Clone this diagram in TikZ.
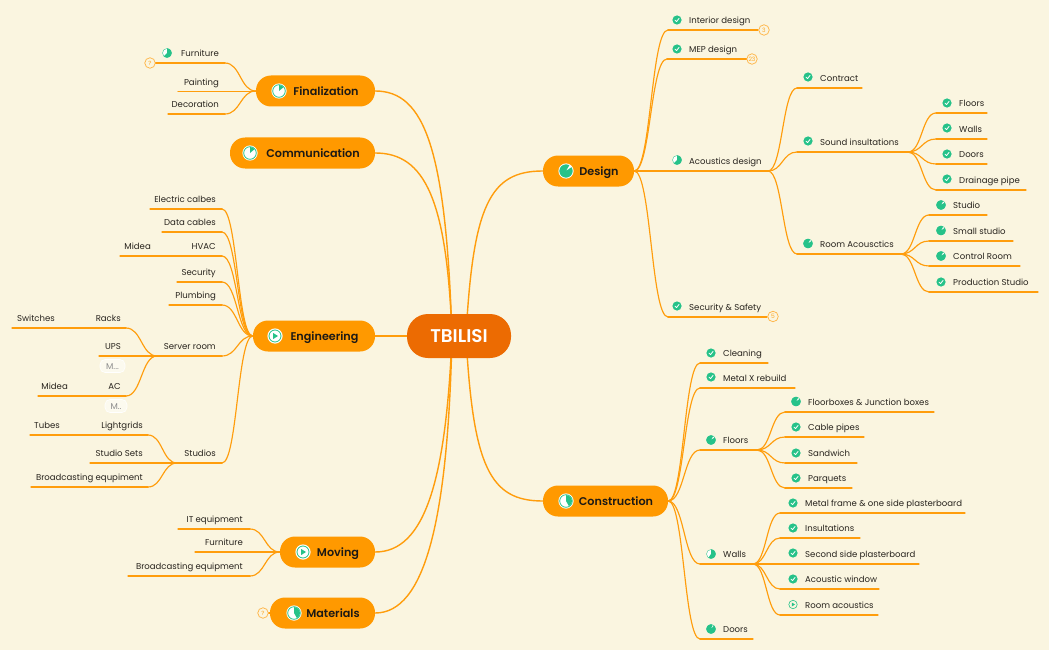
\documentclass[tikz,border=0pt]{standalone}
\usepackage{fontspec}
\setmainfont{Poppins}[BoldFont={Poppins SemiBold}]
\usetikzlibrary{calc}
\definecolor{paper}{RGB}{250,245,224}
\definecolor{org}{RGB}{255,153,0}
\definecolor{lineorg}{RGB}{255,157,12}
\definecolor{root}{RGB}{236,107,2}
\definecolor{grn}{RGB}{38,194,137}
\definecolor{ink}{RGB}{40,36,30}
\pgfdeclarelayer{paperlayer}
\pgfdeclarelayer{linklayer}
\pgfsetlayers{paperlayer,linklayer,main}
\tikzset{
  conn/.style={draw=lineorg,line width=1.15pt,line cap=round},
  mainconn/.style={draw=lineorg,line width=1.4pt,line cap=round},
  topic/.style={fill=org,draw=none,rounded corners=15pt,minimum height=31pt,inner sep=0pt,text=ink!70!black,text height=8.4pt,text depth=0pt,font=\fontsize{11.2}{13}\selectfont\bfseries},
  centre/.style={fill=root,rounded corners=21pt,minimum height=44pt,minimum width=104pt,inner sep=0pt,text=white,text height=12.6pt,text depth=0pt,font=\fontsize{18.4}{20}\selectfont\bfseries},
  leaftext/.style={inner sep=0pt,text=ink,font=\fontsize{8.55}{10}\selectfont},
  badge/.style={circle,draw=org!75,line width=.7pt,fill=paper,minimum size=10.5pt,inner sep=0pt,text=org!85,font=\fontsize{6}{7}\selectfont},
  chip/.style={fill=white!50!paper,draw=white,rounded corners=5pt,line width=.6pt,inner sep=0pt,text=black!45,text height=6pt,text depth=0pt,font=\fontsize{8.5}{9}\selectfont},
}
% leaf with text growing rightwards: name, near x, far x, y, text x, text
\newcommand\leafR[6]{%
  \coordinate (#1-a) at (#2,#4);\coordinate (#1-b) at (#3,#4);
  \draw[conn] (#1-a) -- (#1-b);
  \node[leaftext,anchor=base west] (#1) at (#5,#4-6.2) {#6};}
% leaf with text ending at text x
\newcommand\leafL[6]{%
  \coordinate (#1-a) at (#2,#4);\coordinate (#1-b) at (#3,#4);
  \draw[conn] (#1-a) -- (#1-b);
  \node[leaftext,anchor=base east] (#1) at (#5,#4-6.2) {#6};}
% S-shaped connector
\newcommand\lnk[2]{%
  \draw[conn] let \p1=(#1),\p2=(#2) in (\p1) .. controls ({\x1+0.5*(\x2-\x1)},\y1) and ({\x1+0.5*(\x2-\x1)},\y2) .. (\p2);}
% icons: x, y, radius
\newcommand\chk[2]{%
  \fill[grn] (#1,#2) circle[radius=4.6];
  \draw[white,line width=.8pt,line cap=round,line join=round] (#1-2,#2+.1) -- (#1-.5,#2+1.6) -- (#1+2,#2-1.5);}
% pie: x, y, r, start (clockwise from top), sweep
\newcommand\pie[5]{%
  \fill[grn] (#1,#2) -- plot[variable=\t,domain=#4:#4+#5,samples=30] ({#1+#3*sin(\t)},{#2-#3*cos(\t)}) -- cycle;}
\newcommand\leafpie[4]{%
  \fill[white] (#1,#2) circle[radius=4.6];
  \draw[grn,line width=.35pt] (#1,#2) circle[radius=4.5];
  \pie{#1}{#2}{4.6}{#3}{#4}}
\newcommand\toppie[4]{%
  \fill[white] (#1,#2) circle[radius=7.6];
  \draw[grn,line width=.8pt] (#1,#2) circle[radius=6.3];
  \pie{#1}{#2}{5.8}{#3}{#4}}
\newcommand\topfull[2]{%
  \fill[white] (#1,#2) circle[radius=7.6];
  \pie{#1}{#2}{6.6}{55}{335}}
\newcommand\topplay[2]{%
  \fill[white] (#1,#2) circle[radius=7.6];
  \draw[grn,line width=.8pt] (#1,#2) circle[radius=6];
  \fill[grn] (#1-1.8,#2-3) -- (#1+3,#2) -- (#1-1.8,#2+3) -- cycle;}
\newcommand\leafplay[2]{%
  \draw[grn,line width=.6pt] (#1,#2) circle[radius=4.2];
  \fill[grn] (#1-1.2,#2-2) -- (#1+2,#2) -- (#1-1.2,#2+2) -- cycle;}
\begin{document}
\begin{tikzpicture}[x=1pt,y=-1pt]
\begin{pgfonlayer}{paperlayer}
\fill[paper] (0,0) rectangle (1049,650);
\end{pgfonlayer}
\useasboundingbox (0,0) rectangle (1049,650);

% central and main topics
\node[centre] (tbilisi) at (459,336) {TBILISI};
\coordinate (cR) at (466,336);
\coordinate (cL) at (452,336);
\node[topic,minimum width=91pt] (design) at (588.5,171) {\hspace*{21pt}Design};
\node[topic,minimum width=125pt] (constr) at (605.5,501) {\hspace*{21pt}Construction};
\node[topic,minimum width=119pt] (final) at (315.5,91) {\hspace*{21pt}Finalization};
\node[topic,minimum width=145pt] (comm) at (302.5,153) {\hspace*{21pt}Communication};
\node[topic,minimum width=122pt] (engin) at (314,336) {\hspace*{21pt}Engineering};
\node[topic,minimum width=95pt] (moving) at (327.5,552) {\hspace*{21pt}Moving};
\node[topic,minimum width=105pt] (mater) at (322.5,613) {\hspace*{21pt}Materials};
\topfull{566}{171}
\toppie{566}{501}{0}{150}
\toppie{279}{91}{0}{50}
\toppie{250}{153}{0}{50}
\topplay{275}{336}
\topplay{303}{552}
\toppie{294}{613}{0}{150}

\begin{pgfonlayer}{linklayer}
\draw[mainconn] (cR) .. controls (473,205) and (490,171) .. (design.west);
\draw[mainconn] (cR) .. controls (473,467) and (490,501) .. (constr.west);
\draw[mainconn] (cL) .. controls (446,150) and (425,91) .. (final.east);
\draw[mainconn] (cL) .. controls (447,200) and (425,153) .. (comm.east);
\draw[mainconn] (cL) -- (engin.east);
\draw[mainconn] (cL) .. controls (446,480) and (425,552) .. (moving.east);
\draw[mainconn] (cL) .. controls (448,520) and (425,613) .. (mater.east);

% Design
\leafR{iDes}{668}{758}{30}{689}{Interior design}
\leafR{mep}{667}{747}{59}{689}{MEP design}
\leafR{acou}{634}{768}{171}{689}{Acoustics design}
\leafR{secs}{668}{767}{317}{689}{Security \& Safety}
\lnk{design.east}{iDes-a}\lnk{design.east}{mep-a}\lnk{design.east}{secs-a}
\leafR{contr}{797}{862}{88}{820}{Contract}
\leafR{sound}{797}{908}{152}{820}{Sound insultations}
\leafR{room}{797}{901}{254}{820}{Room Acousctics}
\lnk{acou-b}{contr-a}\lnk{acou-b}{sound-a}\lnk{acou-b}{room-a}
\leafR{floorsA}{936}{987}{113}{959}{Floors}
\leafR{wallsA}{936}{987}{139}{959}{Walls}
\leafR{doorsA}{936}{987}{164}{959}{Doors}
\leafR{drain}{936}{1026}{190}{959}{Drainage pipe}
\lnk{sound-b}{floorsA-a}\lnk{sound-b}{wallsA-a}\lnk{sound-b}{doorsA-a}\lnk{sound-b}{drain-a}
\leafR{studio}{929}{987}{215}{953}{Studio}
\leafR{small}{929}{1013}{241}{953}{Small studio}
\leafR{control}{929}{1020}{266}{953}{Control Room}
\leafR{prod}{929}{1038}{292}{953}{Production Studio}
\lnk{room-b}{studio-a}\lnk{room-b}{small-a}\lnk{room-b}{control-a}\lnk{room-b}{prod-a}

% Construction
\leafR{clean}{700}{768}{363}{723}{Cleaning}
\leafR{metalx}{700}{795}{388}{723}{Metal X rebuild}
\leafR{floorsB}{700}{757}{450}{723}{Floors}
\leafR{wallsB}{700}{753}{564}{723}{Walls}
\leafR{doorsB}{700}{753}{639}{723}{Doors}
\lnk{constr.east}{clean-a}\lnk{constr.east}{metalx-a}\lnk{constr.east}{floorsB-a}\lnk{constr.east}{wallsB-a}\lnk{constr.east}{doorsB-a}
\leafR{fbox}{785}{934}{412}{808}{Floorboxes \& Junction boxes}
\leafR{cable}{785}{864}{437}{808}{Cable pipes}
\leafR{sandw}{785}{857}{463}{808}{Sandwich}
\leafR{parq}{785}{852}{488}{808}{Parquets}
\lnk{floorsB-b}{fbox-a}\lnk{floorsB-b}{cable-a}\lnk{floorsB-b}{sandw-a}\lnk{floorsB-b}{parq-a}
\leafR{mframe}{780}{965}{513}{805}{Metal frame \& one side plasterboard}
\leafR{insul}{780}{860}{538}{805}{Insultations}
\leafR{second}{780}{919}{564}{805}{Second side plasterboard}
\leafR{awin}{780}{879}{589}{805}{Acoustic window}
\leafR{racou}{780}{878}{615}{805}{Room acoustics}
\lnk{wallsB-b}{mframe-a}\lnk{wallsB-b}{insul-a}\lnk{wallsB-b}{second-a}\lnk{wallsB-b}{awin-a}\lnk{wallsB-b}{racou-a}

% Finalization
\leafL{furnA}{225}{155}{63}{219}{Furniture}
\leafL{paint}{256}{178}{91.5}{219}{Painting}
\leafL{decor}{225}{168}{114}{219}{Decoration}
\lnk{final.west}{furnA-a}\lnk{final.west}{decor-a}

% Engineering
\leafL{elec}{222}{150}{209}{216}{Electric calbes}
\leafL{data}{222}{162}{232}{216}{Data cables}
\leafL{hvac}{222}{184}{256}{216}{HVAC}
\leafL{midA}{184}{120}{256}{151}{Midea}
\leafL{secu}{222}{177}{282}{216}{Security}
\leafL{plumb}{222}{169}{305}{216}{Plumbing}
\leafL{server}{222}{157}{356}{216}{Server room}
\leafL{studs}{222}{177}{463}{216}{Studios}
\lnk{engin.west}{elec-a}\lnk{engin.west}{data-a}\lnk{engin.west}{hvac-a}\lnk{engin.west}{secu-a}\lnk{engin.west}{plumb-a}\lnk{engin.west}{server-a}\lnk{engin.west}{studs-a}
\draw[conn] (hvac-b) -- (midA-a);
\leafL{racks}{126}{90}{328}{121}{Racks}
\leafL{switch}{90}{12}{328}{55}{Switches}
\leafL{ups}{126}{99}{356}{121}{UPS}
\leafL{ac}{126}{75}{396}{121}{AC}
\leafL{midB}{75}{38}{396}{68}{Midea}
\lnk{server-b}{racks-a}\lnk{server-b}{ac-a}
\draw[conn] (server-b) -- (ups-a);
\draw[conn] (racks-b) -- (switch-a);
\draw[conn] (ac-b) -- (midB-a);
\leafL{lightg}{148}{75}{435}{143}{Lightgrids}
\leafL{tubes}{75}{30}{435}{60}{Tubes}
\leafL{ssets}{148}{90}{463}{143}{Studio Sets}
\leafL{bcA}{148}{31}{487}{143}{Broadcasting equpiment}
\lnk{studs-b}{lightg-a}\lnk{studs-b}{bcA-a}
\draw[conn] (studs-b) -- (ssets-a);
\draw[conn] (lightg-b) -- (tubes-a);

% Moving
\leafL{iteq}{250}{178}{529}{243}{IT equipment}
\leafL{furnB}{250}{195}{552}{243}{Furniture}
\leafL{bcB}{250}{128}{576}{243}{Broadcasting equipment}
\lnk{moving.west}{iteq-a}\lnk{moving.west}{bcB-a}
\draw[conn] (moving.west) -- (furnB-a);
\draw[conn] (final.west) -- (paint-a);
\end{pgfonlayer}

% count badges
\node[badge] (b3) at (764,30) {3};
\node[badge] (b23) at (752,59) {23};
\node[badge] (b5) at (773,316.5) {5};
\node[badge] (bq1) at (150,63) {?};
\node[badge] (bq2) at (263,613) {?};
\begin{pgfonlayer}{linklayer}
\draw[conn] (mater.west) -- (bq2);
\end{pgfonlayer}

% collapsed chips
\node[chip,minimum width=25pt,minimum height=13pt] (chipA) at (112.5,366) {M...};
\node[chip,minimum width=22pt,minimum height=13pt] (chipB) at (116,406) {M..};

% leaf icons
\chk{677}{20}\chk{677}{49}\leafpie{677}{160}{0}{225}\chk{677}{306}
\chk{808}{77}\chk{808}{141}\leafpie{808}{243.5}{55}{335}
\chk{947}{103}\chk{947}{128}\chk{947}{154}\chk{947}{179}
\leafpie{941}{205}{55}{335}\leafpie{941}{230.5}{55}{335}\leafpie{941}{256}{55}{335}\chk{941}{282}
\chk{711}{353}\chk{711}{377}\leafpie{711}{440}{55}{335}\leafpie{711}{554}{0}{215}\leafpie{711}{629}{40}{340}
\leafpie{796}{401.5}{55}{335}\chk{796}{427}\chk{796}{453}\chk{796}{478}
\chk{793}{503}\chk{793}{528}\chk{793}{553}\chk{793}{579}\leafplay{793}{604.5}
\leafpie{167}{53}{0}{225}
\end{tikzpicture}
\end{document}
